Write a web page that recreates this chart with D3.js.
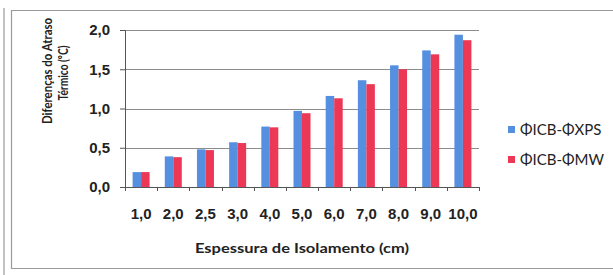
<!DOCTYPE html>
<html>
<head>
<meta charset="utf-8">
<script src="https://cdn.jsdelivr.net/npm/d3@7"></script>
<style>
  body { margin: 0; background: #fff; }
  svg { display: block; font-family: Lato, "Open Sans", sans-serif; }
</style>
</head>
<body>
<div id="chart"></div>
<script>
// Dados
const espessuras = ["1,0", "2,0", "2,5", "3,0", "4,0", "5,0", "6,0", "7,0", "8,0", "9,0", "10,0"];
const icbXps = [0.19, 0.39, 0.48, 0.57, 0.77, 0.97, 1.16, 1.36, 1.55, 1.74, 1.94];
const icbMw  = [0.19, 0.38, 0.47, 0.56, 0.76, 0.94, 1.13, 1.31, 1.50, 1.69, 1.87];
const series = ["ΦICB-ΦXPS", "ΦICB-ΦMW"];
const yTicks = [0, 0.5, 1.0, 1.5, 2.0];
const colors = ["#5590e0", "#ec3755"];

const W = 613, H = 275;
const margin = { top: 30, right: 134, bottom: 88, left: 125 };
const width = W - margin.left - margin.right;
const height = H - margin.top - margin.bottom;

const data = espessuras.map((e, i) => ({ cat: e, vals: [icbXps[i], icbMw[i]] }));

const svg = d3.select("#chart").append("svg")
  .attr("width", W).attr("height", H);

// moldura (digitalização)
svg.append("line").attr("x1", 4).attr("x2", 4).attr("y1", 8).attr("y2", 275)
  .attr("stroke", "#9a9a9a").attr("stroke-width", 1.2);
svg.append("path")
  .attr("d", `M613,10.5 H11.5 V268.5 H613`)
  .attr("fill", "none").attr("stroke", "#9a9a9a").attr("stroke-width", 1.2);

const g = svg.append("g").attr("transform", `translate(${margin.left},${margin.top})`);

const x0 = d3.scaleBand().domain(espessuras).range([0, width]).paddingInner(0).paddingOuter(0);
const x1 = d3.scaleBand().domain([0, 1]).range([0, 17]);
const y = d3.scaleLinear().domain([0, 2]).range([height, 0]);

// linhas de grelha
g.append("g").selectAll("line").data(yTicks.filter(t => t > 0)).join("line")
  .attr("x1", 0).attr("x2", width)
  .attr("y1", d => Math.round(y(d)) + 0.5).attr("y2", d => Math.round(y(d)) + 0.5)
  .attr("stroke", "#8c8c8c").attr("stroke-width", 1);

// barras
const grp = g.append("g").selectAll("g").data(data).join("g")
  .attr("transform", d => `translate(${x0(d.cat) + (x0.bandwidth() - 17) / 2},0)`);
grp.selectAll("rect").data(d => d.vals).join("rect")
  .attr("x", (d, i) => x1(i))
  .attr("width", x1.bandwidth())
  .attr("y", d => y(d))
  .attr("height", d => y(0) - y(d))
  .attr("fill", (d, i) => colors[i]);

// eixo Y
const yAxis = g.append("g")
  .call(d3.axisLeft(y).tickValues(yTicks).tickSize(5).tickPadding(10)
    .tickFormat(d => d3.format(".1f")(d).replace(".", ",")));
yAxis.select(".domain").attr("stroke", "#555").attr("d", `M-5,${height + 0.5}H0.5V0.5H-5`);
yAxis.selectAll(".tick line").attr("stroke", "#555");
yAxis.selectAll("text").attr("font-size", 15).attr("font-weight", "bold").attr("fill", "#222");

// eixo X
const xAxis = g.append("g").attr("transform", `translate(0,${height})`)
  .call(d3.axisBottom(x0).tickSize(0).tickPadding(21));
xAxis.select(".domain").attr("stroke", "#555");
xAxis.selectAll("text").attr("font-size", 15).attr("font-weight", "bold").attr("fill", "#222");
g.append("g").attr("transform", `translate(0,${height})`)
  .selectAll("line").data(d3.range(espessuras.length + 1)).join("line")
  .attr("x1", i => Math.round(i * x0.step()) + 0.5).attr("x2", i => Math.round(i * x0.step()) + 0.5)
  .attr("y1", 0).attr("y2", 4).attr("stroke", "#555");

// títulos dos eixos
svg.append("text")
  .attr("x", 302).attr("y", 253)
  .attr("text-anchor", "middle").attr("font-size", 14).attr("font-weight", "bold").attr("fill", "#222")
  .attr("textLength", 214).attr("lengthAdjust", "spacingAndGlyphs")
  .text("Espessura de Isolamento (cm)");

const yt = svg.append("text")
  .attr("transform", "translate(52,71) rotate(-90)")
  .attr("text-anchor", "middle").attr("font-size", 13).attr("font-weight", "bold").attr("fill", "#222");
yt.append("tspan").attr("x", 0).attr("dy", 0)
  .attr("textLength", 106).attr("lengthAdjust", "spacingAndGlyphs").text("Diferenças do Atraso");
yt.append("tspan").attr("x", -2).attr("dy", 16)
  .attr("textLength", 55).attr("lengthAdjust", "spacingAndGlyphs").text("Térmico (ºC)");

// legenda
const leg = svg.append("g").attr("transform", "translate(508,130)");
leg.selectAll("g").data(series).join("g")
  .attr("transform", (d, i) => `translate(0,${i * 30})`)
  .each(function (d, i) {
    const s = d3.select(this);
    s.append("rect").attr("x", 0).attr("y", -4).attr("width", 7).attr("height", 7).attr("fill", colors[i]);
    s.append("text").attr("x", 12).attr("y", 0).attr("dy", "0.35em")
      .attr("font-size", 15).attr("fill", "#222").text(d);
  });
</script>
</body>
</html>
